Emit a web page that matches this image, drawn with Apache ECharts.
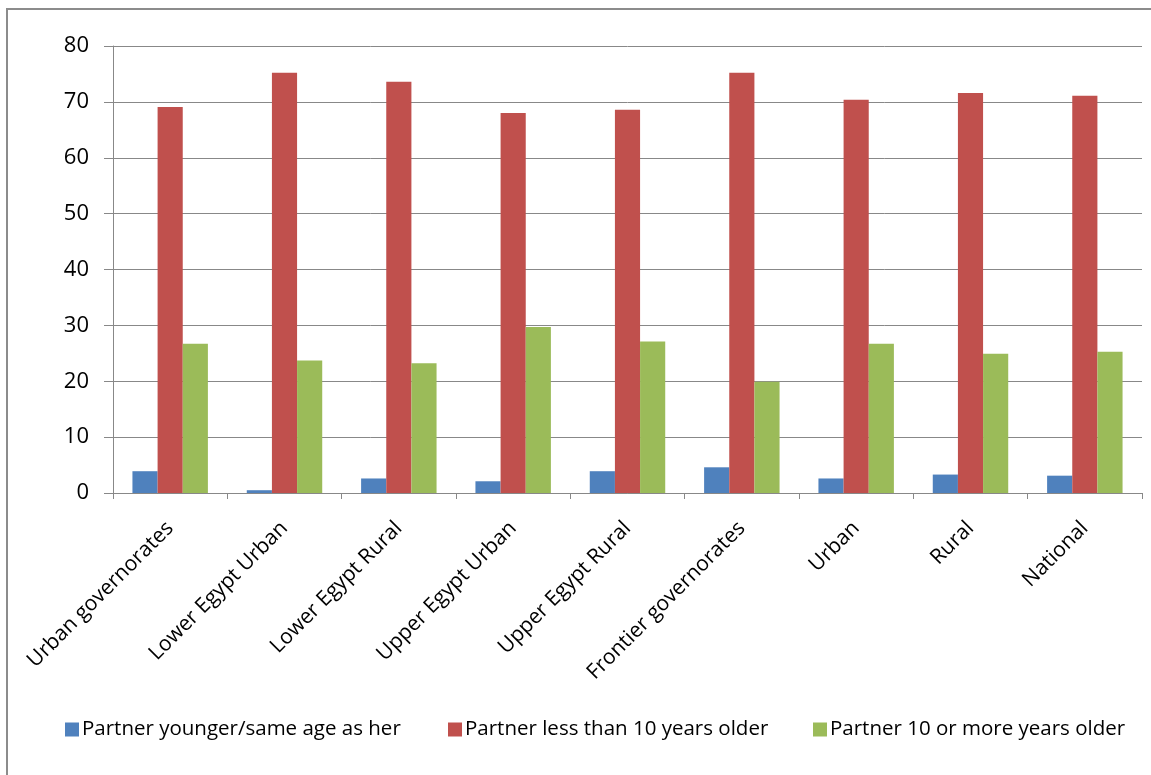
<!DOCTYPE html>
<html><head><meta charset="utf-8">
<script src="https://cdn.jsdelivr.net/npm/echarts@6/dist/echarts.min.js"></script>
<style>html,body{margin:0;padding:0;background:#fff}#c{width:1151px;height:775px}</style>
</head><body><div id="c"></div>
<script>
const categories = ["Urban governorates","Lower Egypt Urban","Lower Egypt Rural","Upper Egypt Urban","Upper Egypt Rural","Frontier governorates","Urban","Rural","National"];
const seriesNames = ["Partner younger/same age as her","Partner less than 10 years older","Partner 10 or more years older"];
const younger = [3.9, 0.5, 2.6, 2.1, 3.9, 4.6, 2.6, 3.3, 3.1];
const lessThan10 = [69.1, 75.2, 73.6, 68.0, 68.6, 75.2, 70.4, 71.6, 71.1];
const tenOrMore = [26.7, 23.7, 23.2, 29.7, 27.1, 19.9, 26.7, 24.9, 25.3];
const colors = ["#4F81BD","#C0504D","#9BBB59"];

const chart = echarts.init(document.getElementById('c'));
const legendStyle = {fontFamily:'Open Sans', fontSize:20.5, color:'#000'};
const mkLegend = (i, left) => ({
  data:[seriesNames[i]], left:left, top:714, itemWidth:14, itemHeight:14, itemGap:0,
  icon:'rect', textStyle:Object.assign({padding:[0,0,0,-2]}, legendStyle), selectedMode:false
});
chart.setOption({
  animation:false,
  color:colors,
  graphic:[{type:'rect', shape:{x:7,y:9,width:1200,height:800}, style:{fill:'none', stroke:'#8c8c8c', lineWidth:2}, silent:true}],
  legend:[mkLegend(0,60), mkLegend(1,443), mkLegend(2,808)],
  grid:{left:113, right:9, top:46, bottom:282, containLabel:false},
  xAxis:{type:'category', data:categories,
    axisLine:{lineStyle:{color:'#888', width:1}},
    axisTick:{show:true, length:6, lineStyle:{color:'#888'}},
    axisLabel:{rotate:45, interval:0, margin:32, fontFamily:'Open Sans', fontSize:21, color:'#000'}},
  yAxis:{type:'value', min:0, max:80, interval:10,
    axisLine:{show:true, lineStyle:{color:'#888', width:1}},
    axisTick:{show:true, length:9, lineStyle:{color:'#888'}},
    axisLabel:{margin:24, fontFamily:'Open Sans', fontSize:22, color:'#000'},
    splitLine:{lineStyle:{color:'#888', width:1}}},
  series:[
    {name:seriesNames[0], type:'bar', data:younger, barGap:'0%', barCategoryGap:'34%'},
    {name:seriesNames[1], type:'bar', data:lessThan10, barGap:'0%', barCategoryGap:'34%'},
    {name:seriesNames[2], type:'bar', data:tenOrMore, barGap:'0%', barCategoryGap:'34%'}
  ]
});
</script></body></html>
